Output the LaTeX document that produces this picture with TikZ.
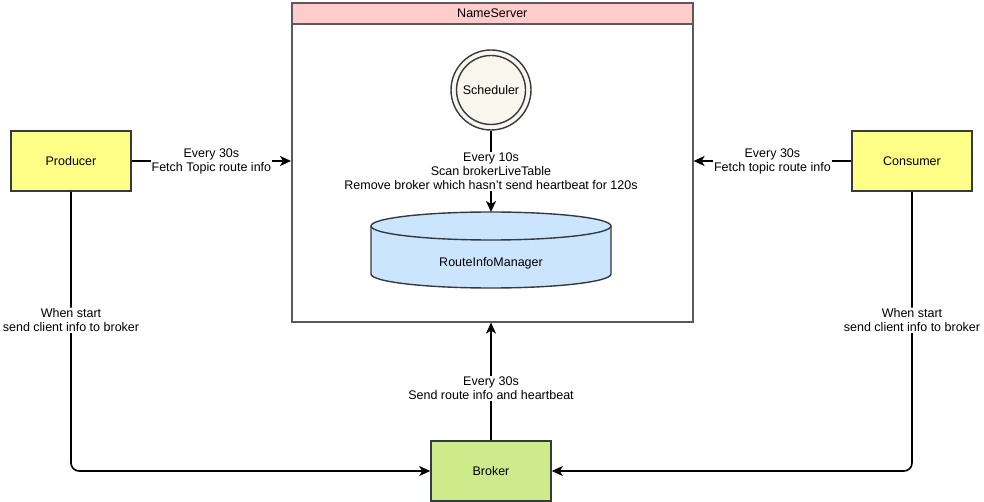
\documentclass[tikz,border=0pt]{standalone}
\usepackage{fontspec}
\setmainfont{Liberation Sans}
\usepackage{tikz}
\usetikzlibrary{arrows.meta, positioning}
\definecolor{edge}{RGB}{54,57,61}
\definecolor{frame}{RGB}{90,90,90}
\definecolor{pinkhead}{RGB}{255,204,204}
\definecolor{client}{RGB}{255,255,136}
\definecolor{brokergreen}{RGB}{205,235,139}
\definecolor{store}{RGB}{204,229,255}
\definecolor{cream}{RGB}{249,247,237}

\tikzset{
    box/.style={draw=edge, line width=1.6pt, minimum width=120pt, minimum height=60pt},
    flow/.style={draw=black, line width=1.6pt, -{Stealth[length=11pt, width=10pt, inset=3pt]}},
    lbl/.style={fill=white, align=center, inner sep=1pt}
}

\begin{document}
\begin{tikzpicture}[x=1pt, y=1pt, font=\fontsize{12.5}{14}\selectfont]

    \useasboundingbox (0, 0) rectangle (984, -502);

    % name server frame with header
    \node[draw=frame, line width=1.6pt, minimum width=401pt, minimum height=319pt,
          anchor=north west] (ns) at (291, -2) {};
    \node[draw=frame, line width=1.6pt, fill=pinkhead, minimum width=401pt,
          minimum height=21pt, anchor=north west] (nshead) at (291, -2) {NameServer};

    % scheduler
    \node[circle, draw=edge, fill=cream, line width=1.4pt, minimum size=80pt] (sched) at (491, -90) {};
    \node[circle, draw=edge, line width=1.4pt, minimum size=69pt] at (sched) {Scheduler};

    % route info store
    \fill[store] (371, -226) -- (371, -274)
        arc[start angle=180, end angle=360, x radius=120, y radius=14]
        -- (611, -226)
        arc[start angle=0, end angle=180, x radius=120, y radius=14] -- cycle;
    \draw[edge, line width=1.4pt] (371, -226) -- (371, -274)
        arc[start angle=180, end angle=360, x radius=120, y radius=14]
        -- (611, -226)
        arc[start angle=0, end angle=180, x radius=120, y radius=14];
    \draw[edge, line width=1.4pt] (371, -226)
        arc[start angle=180, end angle=360, x radius=120, y radius=14];
    \node (rim) at (491, -263) {RouteInfoManager};
    \coordinate (storetop) at (491, -212);

    % clients and broker
    \node[box, fill=client] (prod) at (71, -161) {Producer};
    \node[box, fill=client] (cons) at (912, -161) {Consumer};
    \node[box, fill=brokergreen] (broker) at (491, -471) {Broker};

    \draw[flow] (sched) -- node[lbl] {Every 10s\\Scan brokerLiveTable\\Remove broker which hasn't send heartbeat for 120s} (storetop);

    \draw[flow] (prod) -- node[lbl] {Every 30s\\Fetch Topic route info} (prod -| ns.west);
    \draw[flow] (cons) -- node[lbl] {Every 30s\\Fetch topic route info} (cons -| ns.east);

    \draw[flow, rounded corners=8pt] (prod) |- node[lbl, pos=0.23] {When start\\send client info to broker} (broker);
    \draw[flow, rounded corners=8pt] (cons) |- node[lbl, pos=0.23] {When start\\send client info to broker} (broker);

    \draw[flow] (broker) -- node[lbl, pos=0.44] {Every 30s\\Send route info and heartbeat} (broker |- ns.south);

\end{tikzpicture}
\end{document}
